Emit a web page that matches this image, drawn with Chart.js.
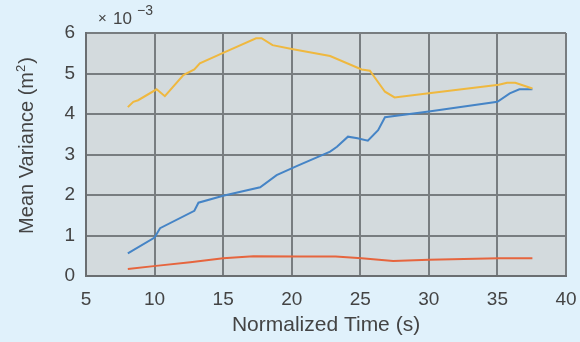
<!DOCTYPE html>
<html>
<head>
<meta charset="utf-8">
<script src="https://cdn.jsdelivr.net/npm/chart.js@4"></script>
<style>
  html, body { margin: 0; padding: 0; background: #e0f1fb; }
  canvas { display: block; }
</style>
</head>
<body>
<canvas id="myChart" width="580" height="342"></canvas>
<script>
// values in units of 1e-3 m^2
const yellowTime = [8.05, 8.45, 8.8, 10.15, 10.75, 12.1, 12.9, 13.3, 15.0, 17.4, 17.8, 18.6, 20.1, 22.8, 25.1, 25.7, 26.8, 27.5, 30.0, 35.1, 35.7, 36.3, 37.55];
const yellowVar = [4.17, 4.30, 4.34, 4.61, 4.44, 4.96, 5.10, 5.25, 5.51, 5.87, 5.87, 5.70, 5.60, 5.43, 5.10, 5.07, 4.55, 4.41, 4.51, 4.72, 4.77, 4.77, 4.63];

const blueTime = [8.05, 10.0, 10.4, 12.9, 13.2, 15.0, 17.7, 18.9, 20.4, 22.8, 23.3, 24.1, 24.8, 25.55, 26.3, 26.8, 30.0, 35.0, 35.9, 36.6, 37.55];
const blueVar = [0.56, 0.95, 1.18, 1.61, 1.81, 1.98, 2.19, 2.49, 2.72, 3.07, 3.19, 3.44, 3.40, 3.34, 3.60, 3.92, 4.06, 4.30, 4.51, 4.61, 4.61];

const redTime = [8.05, 10.1, 12.6, 15.0, 17.2, 20.6, 23.2, 25.1, 27.4, 30.0, 35.1, 37.55];
const redVar = [0.17, 0.25, 0.34, 0.44, 0.49, 0.48, 0.48, 0.44, 0.37, 0.40, 0.44, 0.44];

const xTicks = [5, 10, 15, 20, 25, 30, 35, 40];
const yTicks = [0, 1, 2, 3, 4, 5, 6];

const FONT = '"Liberation Sans", Arial, sans-serif';
const TEXT = '#444';

function toPoints(xs, ys) {
  return xs.map((x, i) => ({ x: x, y: ys[i] }));
}

// gray plot area, exponent label and y title with a real superscript
const extras = {
  id: 'extras',
  beforeDraw(chart) {
    const a = chart.chartArea;
    const c = chart.ctx;
    c.save();
    c.fillStyle = '#d3dadd';
    c.fillRect(a.left, a.top, a.right - a.left, a.bottom - a.top);
    c.restore();
  },
  afterDraw(chart) {
    const c = chart.ctx;
    c.save();
    c.fillStyle = TEXT;
    c.textBaseline = 'alphabetic';
    c.font = '15px ' + FONT;
    c.fillText('\u00d7', 98, 23);
    c.font = '17px ' + FONT;
    c.fillText('10', 113, 24);
    c.font = '14px ' + FONT;
    c.fillText('\u22123', 137, 15);

    // y axis title
    c.translate(33, 146);
    c.rotate(-Math.PI / 2);
    const main = 'Mean Variance (m';
    c.font = '20px ' + FONT;
    const w1 = c.measureText(main).width;
    c.font = '13px ' + FONT;
    const w2 = c.measureText('2').width;
    c.font = '20px ' + FONT;
    const w3 = c.measureText(')').width;
    let x = -(w1 + w2 + w3) / 2;
    c.fillText(main, x, 0);
    c.font = '13px ' + FONT;
    c.fillText('2', x + w1, -8);
    c.font = '20px ' + FONT;
    c.fillText(')', x + w1 + w2 + 1, 0);
    c.restore();
  }
};

const ctx = document.getElementById("myChart").getContext("2d");

const myChart = new Chart(ctx, {
  type: 'scatter',
  data: {
    datasets: [
      { data: toPoints(yellowTime, yellowVar), borderColor: '#efb83f', showLine: true, borderWidth: 2, pointRadius: 0 },
      { data: toPoints(blueTime, blueVar), borderColor: '#4584c6', showLine: true, borderWidth: 2, pointRadius: 0 },
      { data: toPoints(redTime, redVar), borderColor: '#e6653e', showLine: true, borderWidth: 2, pointRadius: 0 }
    ]
  },
  options: {
    responsive: false,
    animation: false,
    events: [],
    layout: { padding: { top: 33, right: 14, left: 0, bottom: 0 } },
    plugins: { legend: { display: false }, tooltip: { enabled: false } },
    scales: {
      x: {
        type: 'linear',
        min: 5, max: 40,
        afterBuildTicks: (s) => { s.ticks = xTicks.map(v => ({ value: v })); },
        afterFit: (s) => { s.height = 66; s.paddingLeft = 0; s.paddingRight = 0; },
        grid: { color: '#787d80', lineWidth: 2, drawTicks: false },
        border: { color: '#6a6e71', width: 2 },
        ticks: { color: TEXT, padding: 12, font: { family: FONT, size: 19 } },
        title: { display: true, text: 'Normalized Time (s)', color: TEXT, padding: { top: 0, bottom: 4 }, font: { family: FONT, size: 21 } }
      },
      y: {
        type: 'linear',
        min: 0, max: 6,
        afterBuildTicks: (s) => { s.ticks = yTicks.map(v => ({ value: v })); },
        afterFit: (s) => { s.width = 86; s.paddingTop = 0; s.paddingBottom = 0; },
        grid: { color: '#787d80', lineWidth: 2, drawTicks: false },
        border: { color: '#6a6e71', width: 2 },
        ticks: { color: TEXT, padding: 11, font: { family: FONT, size: 19 } },
        title: { display: false }
      }
    }
  },
  plugins: [extras]
});
</script>
</body>
</html>
